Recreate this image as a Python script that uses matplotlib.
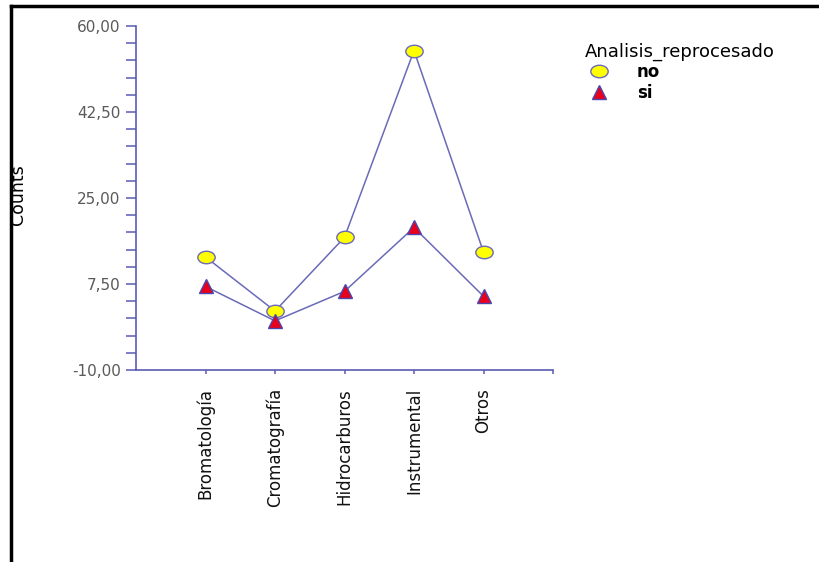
import matplotlib.pyplot as plt
from matplotlib.ticker import MultipleLocator, FixedLocator
from matplotlib.lines import Line2D
from matplotlib.path import Path
from matplotlib.transforms import Affine2D

categories = ['Bromatología', 'Cromatografía', 'Hidrocarburos', 'Instrumental', 'Otros']
counts_no = [13, 2, 17, 55, 14]
counts_si = [7, 0, 6, 19, 5]
y_ticks = [-10, 7.5, 25, 42.5, 60]
y_labels = ['-10,00', '7,50', '25,00', '42,50', '60,00']

plt.rcParams['font.family'] = ['DejaVu Sans']

axis_col = '#5a5ab4'
line_col = '#6a6ab8'

# flattened ellipse marker like the SPSS one
ellipse = Path.unit_circle().transformed(Affine2D().scale(1.0, 0.72))

fig = plt.figure(figsize=(8.2, 5.62), dpi=100)
# axes box: x 136..553 px, y 26..370 px
ax = fig.add_axes([136 / 820, 1 - 370 / 562, (553 - 136) / 820, (370 - 26) / 562])

x = list(range(1, len(categories) + 1))
ax.plot(x, counts_no, color=line_col, lw=1.1, zorder=2)
ax.plot(x, counts_si, color=line_col, lw=1.1, zorder=2)
ax.plot(x, counts_no, ls='none', marker=ellipse, ms=12.5, markerfacecolor='#ffff00',
        markeredgecolor='#6a6ab8', markeredgewidth=1, zorder=3, label='no')
ax.plot(x, counts_si, ls='none', marker='^', ms=10, markerfacecolor='#e8001c',
        markeredgecolor='#4848b0', markeredgewidth=1, zorder=3, label='si')

ax.set_xlim(0, 6)
ax.set_ylim(-10, 60)
for s in ['top', 'right']:
    ax.spines[s].set_visible(False)
for s in ['left', 'bottom']:
    ax.spines[s].set_color(axis_col)
    ax.spines[s].set_linewidth(1.2)

ax.yaxis.set_major_locator(FixedLocator(y_ticks))
ax.yaxis.set_minor_locator(MultipleLocator(3.5, offset=-10))
ax.set_yticklabels(y_labels, color='#5a5a5a', fontsize=11)
ax.tick_params(axis='y', which='both', direction='out', length=7, width=1.1, color=axis_col, pad=4)

ax.set_xticks(x)
ax.set_xticklabels(categories, rotation=90, fontsize=12, color='#111111')
ax.xaxis.set_minor_locator(FixedLocator([6]))
ax.tick_params(axis='x', which='both', direction='out', length=3, width=1.1, color=axis_col, pad=10)

fig.text(18 / 820, 1 - 195 / 562, 'Counts', rotation=90, ha='center', va='center', fontsize=12.5)

leg = ax.legend(loc='upper left', bbox_to_anchor=(577 / 820, 1 - 34 / 562), bbox_transform=fig.transFigure,
                frameon=False, title='Analisis_reprocesado', fontsize=12, title_fontsize=13,
                handletextpad=1.5, labelspacing=0.15, borderpad=0, handlelength=1.6)
leg._legend_box.align = 'left'
for t in leg.get_texts():
    t.set_fontweight('bold')

# outer black frame: only top and left edges are visible
fig.add_artist(Line2D([11 / 820, 11 / 820], [0, 1 - 6 / 562], transform=fig.transFigure, color='black', lw=2.5))
fig.add_artist(Line2D([11 / 820, 1], [1 - 6 / 562, 1 - 6 / 562], transform=fig.transFigure, color='black', lw=2.5))

fig.savefig('out.png', dpi=100)
